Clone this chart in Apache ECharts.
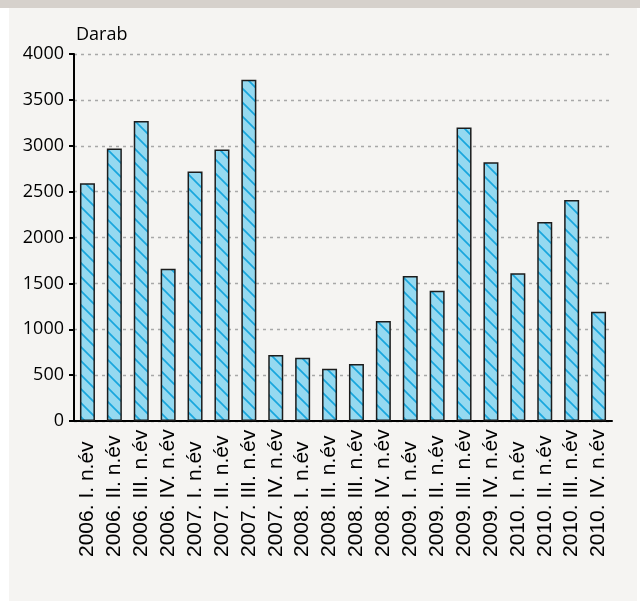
<!DOCTYPE html>
<html>
<head>
<meta charset="utf-8">
<script src="https://cdn.jsdelivr.net/npm/echarts@6/dist/echarts.min.js"></script>
<style>
  html, body { margin: 0; padding: 0; background: #ffffff; }
  #chart { width: 640px; height: 601px; }
</style>
</head>
<body>
<div id="chart"></div>
<script>
// negyedévek
var categories = [
    '2006. I. n.év', '2006. II. n.év', '2006. III. n.év', '2006. IV. n.év',
    '2007. I. n.év', '2007. II. n.év', '2007. III. n.év', '2007. IV. n.év',
    '2008. I. n.év', '2008. II. n.év', '2008. III. n.év', '2008. IV. n.év',
    '2009. I. n.év', '2009. II. n.év', '2009. III. n.év', '2009. IV. n.év',
    '2010. I. n.év', '2010. II. n.év', '2010. III. n.év', '2010. IV. n.év'
];
// darabszám
var values = [
    2590, 2970, 3270, 1660,
    2720, 2960, 3720, 720,
    690, 570, 620, 1090,
    1580, 1420, 3200, 2820,
    1610, 2170, 2410, 1190
];
var yTicks = [0, 500, 1000, 1500, 2000, 2500, 3000, 3500, 4000];

// csíkos minta a oszlopokhoz
function makePattern() {
    var s = 14;
    var c = document.createElement('canvas');
    c.width = s;
    c.height = s;
    var ctx = c.getContext('2d');
    ctx.fillStyle = '#95d9f0';
    ctx.fillRect(0, 0, s, s);
    ctx.strokeStyle = '#18a6dd';
    ctx.lineWidth = 1.7;
    ctx.beginPath();
    ctx.moveTo(-2, -2); ctx.lineTo(s + 2, s + 2);
    ctx.moveTo(-2, s - 2); ctx.lineTo(2, s + 2);
    ctx.moveTo(s - 2, -2); ctx.lineTo(s + 2, 2);
    ctx.stroke();
    return c;
}

var myChart = echarts.init(document.getElementById('chart'));
var option = {
    backgroundColor: '#ffffff',
    animation: false,
    graphic: [
        { type: 'rect', z: -10, shape: { x: 0, y: 0, width: 640, height: 8 }, style: { fill: '#d6d1cc' } },
        { type: 'rect', z: -10, shape: { x: 9, y: 8, width: 628, height: 593 }, style: { fill: '#f5f4f2' } }
    ],
    title: {
        text: 'Darab',
        left: 71,
        top: 21,
        textStyle: {
            fontFamily: 'Open Sans',
            fontSize: 18,
            fontWeight: 'normal',
            color: '#000'
        }
    },
    grid: {
        left: 74,
        right: 28,
        top: 54,
        bottom: 180
    },
    xAxis: {
        type: 'category',
        data: categories,
        axisLine: { lineStyle: { color: '#000', width: 2 } },
        axisTick: { length: 6, lineStyle: { color: '#000', width: 2 } },
        axisLabel: {
            rotate: 90,
            align: 'left',
            verticalAlign: 'middle',
            margin: 136,
            interval: 0,
            fontFamily: 'Liberation Sans',
            fontSize: 21,
            color: '#000'
        }
    },
    yAxis: {
        type: 'value',
        min: yTicks[0],
        max: yTicks[yTicks.length - 1],
        interval: 500,
        axisLine: { show: true, lineStyle: { color: '#000', width: 2 } },
        axisTick: { show: true, length: 5, lineStyle: { color: '#000', width: 2 } },
        axisLabel: {
            margin: 10,
            formatter: function (v) { return String(v); },
            fontFamily: 'Open Sans',
            fontSize: 18,
            color: '#000'
        },
        splitLine: {
            lineStyle: { color: '#a8a8a8', type: [3, 4], width: 1.3 }
        }
    },
    series: [{
        type: 'bar',
        data: values,
        barWidth: 15,
        itemStyle: {
            color: { image: makePattern(), repeat: 'repeat' },
            borderColor: '#1c1c1c',
            borderWidth: 1.5
        }
    }]
};
myChart.setOption(option);
</script>
</body>
</html>
